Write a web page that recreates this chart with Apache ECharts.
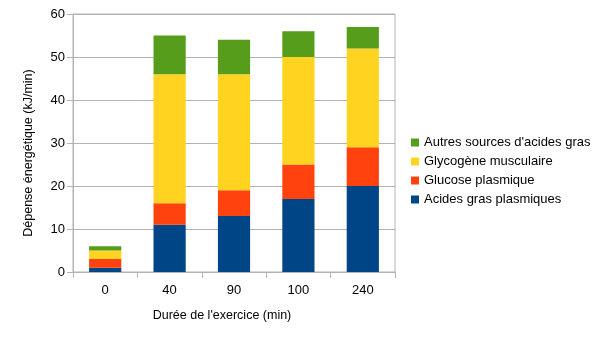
<!DOCTYPE html>
<html><head><meta charset="utf-8">
<script src="https://cdn.jsdelivr.net/npm/echarts@6/dist/echarts.min.js"></script>
<style>html,body{margin:0;padding:0;background:#fff}#c{width:605px;height:340px}</style>
</head><body><div id="c"></div>
<script>
const categories = ['0','40','90','100','240'];
const seriesNames = ['Acides gras plasmiques','Glucose plasmique','Glycogène musculaire',"Autres sources d'acides gras"];
const acidesGras = [1, 11, 13, 17, 20];
const glucose = [2, 5, 6, 8, 9];
const glycogene = [2, 30, 27, 25, 23];
const autres = [1, 9, 8, 6, 5];
const yTicks = [0, 10, 20, 30, 40, 50, 60];
const colors = ['#004586','#ff420e','#ffd320','#579d1c'];
const values = [acidesGras, glucose, glycogene, autres];
const font = 'Liberation Sans';
const chart = echarts.init(document.getElementById('c'));
chart.setOption({
  animation: false,
  textStyle: {fontFamily: font},
  grid: {left: 73, right: 210, top: 14, bottom: 68, show: true, borderColor: '#b3b3b3', borderWidth: 1},
  legend: {
    orient: 'vertical', left: 411, top: 136, padding: 0,
    data: seriesNames.slice().reverse(),
    icon: 'rect', itemWidth: 8, itemHeight: 8, itemGap: 6,
    textStyle: {fontFamily: font, fontSize: 13, lineHeight: 13, color: '#000', padding: [0,0,0,0]}
  },
  xAxis: {
    type: 'category', data: categories,
    name: "Durée de l'exercice (min)", nameLocation: 'middle', nameGap: 37,
    nameTextStyle: {fontFamily: font, fontSize: 12.5, color: '#000', padding: [0, 24, 0, 0]},
    axisLine: {lineStyle: {color: '#b3b3b3'}},
    axisTick: {show: true, length: 6, lineStyle: {color: '#b3b3b3'}},
    axisLabel: {fontFamily: font, fontSize: 13, color: '#000', margin: 12}
  },
  yAxis: {
    type: 'value', min: yTicks[0], max: yTicks[yTicks.length-1], interval: 10,
    name: 'Dépense énergétique (kJ/min)', nameLocation: 'middle', nameGap: 38,
    nameTextStyle: {fontFamily: font, fontSize: 12.5, color: '#000', padding: [0, 20, 0, 0]},
    axisLine: {show: true, lineStyle: {color: '#b3b3b3'}},
    axisTick: {show: true, length: 6, lineStyle: {color: '#b3b3b3'}},
    splitLine: {lineStyle: {color: '#b3b3b3'}},
    axisLabel: {fontFamily: font, fontSize: 13, color: '#000', margin: 8}
  },
  series: seriesNames.map((n, i) => ({
    name: n, type: 'bar', stack: 'total', barWidth: '50%',
    itemStyle: {color: colors[i]},
    data: values[i]
  }))
});
</script></body></html>
